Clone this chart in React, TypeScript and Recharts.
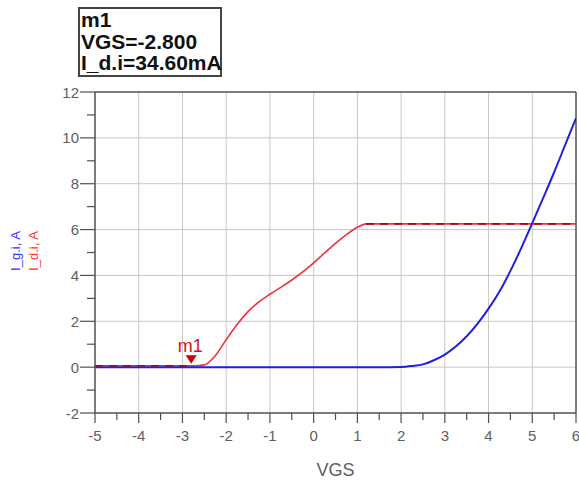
import { LineChart, Line, XAxis, YAxis, ReferenceLine, ReferenceDot, Label } from 'recharts';

const vgs = [-5, -4, -3, -2.75, -2.5, -2.25, -2, -1.75, -1.5, -1.25, -1, -0.75, -0.5, -0.25, 0, 0.25, 0.5, 0.75, 1, 1.2, 1.5, 2, 2.25, 2.5, 2.75, 3, 3.25, 3.5, 3.75, 4, 4.25, 4.5, 4.75, 5, 5.25, 5.5, 5.75, 6];
const idCurrent = [0.06, 0.06, 0.06, 0.06, 0.1, 0.5, 1.2, 1.86, 2.42, 2.85, 3.18, 3.48, 3.8, 4.15, 4.55, 4.98, 5.4, 5.78, 6.1, 6.25, 6.25, 6.25, 6.25, 6.25, 6.25, 6.25, 6.25, 6.25, 6.25, 6.25, 6.25, 6.25, 6.25, 6.25, 6.25, 6.25, 6.25, 6.25];
const idDashed = [0.06, 0.06, 0.06, 0.06, null, null, null, null, null, null, null, null, null, null, null, null, null, null, null, 6.25, 6.25, 6.25, 6.25, 6.25, 6.25, 6.25, 6.25, 6.25, 6.25, 6.25, 6.25, 6.25, 6.25, 6.25, 6.25, 6.25, 6.25, 6.25];
const igCurrent = [0, 0, 0, 0, 0, 0, 0, 0, 0, 0, 0, 0, 0, 0, 0, 0, 0, 0, 0, 0, 0, 0.01, 0.05, 0.12, 0.3, 0.55, 0.9, 1.35, 1.9, 2.55, 3.3, 4.2, 5.2, 6.28, 7.38, 8.5, 9.68, 10.86];

const xTicks = [-5, -4.5, -4, -3.5, -3, -2.5, -2, -1.5, -1, -0.5, 0, 0.5, 1, 1.5, 2, 2.5, 3, 3.5, 4, 4.5, 5, 5.5, 6];
const yTicks = [-2, -1, 0, 1, 2, 3, 4, 5, 6, 7, 8, 9, 10, 11, 12];
const gridX = [-4, -3, -2, -1, 0, 1, 2, 3, 4, 5];
const gridY = [0, 2, 4, 6, 8, 10];

const marker = { name: 'm1', vgs: -2.8, id: 0.0346 };

const data = vgs.map((v, i) => ({ vgs: v, id: idCurrent[i], idDash: idDashed[i], ig: igCurrent[i] }));

const font = 'Liberation Sans, Arial, sans-serif';
const axisColor = '#505050';
const tickColor = '#606060';

const XTick = (props: any) => {
  const { x, y, payload } = props;
  const major = Number.isInteger(payload.value);
  return (
    <g>
      <line x1={x} y1={y} x2={x} y2={y + (major ? 10 : 7)} stroke={axisColor} strokeWidth={1.2} />
      {major && (
        <text x={x} y={y + 28} textAnchor="middle" fontSize={15} fill={tickColor} fontFamily={font}>
          {payload.value}
        </text>
      )}
    </g>
  );
};

const YTick = (props: any) => {
  const { x, y, payload } = props;
  const major = payload.value % 2 === 0;
  return (
    <g>
      <line x1={x} y1={y} x2={x - (major ? 15 : 8)} y2={y} stroke={axisColor} strokeWidth={1.2} />
      {major && (
        <text x={x - 16} y={y + 5.5} textAnchor="end" fontSize={15} fill={tickColor} fontFamily={font}>
          {payload.value}
        </text>
      )}
    </g>
  );
};

const MarkerShape = (props: any) => {
  const { cx, cy } = props;
  return (
    <g>
      <polygon points={`${cx - 5.5},${cy - 11} ${cx + 5.5},${cy - 11} ${cx},${cy - 2.5}`} fill="#c80000" />
      <text x={cx - 1} y={cy - 14} textAnchor="middle" fontSize={18} fill="#e01010" fontFamily={font}>
        {marker.name}
      </text>
    </g>
  );
};

export default function App() {
  return (
    <div style={{ position: 'absolute', left: 0, top: 0, width: 579, height: 482, background: '#fff' }}>
      <LineChart width={579} height={482} data={data} margin={{ top: 92, right: 3, bottom: 39, left: 35 }}>
        {gridX.map((g) => (
          <ReferenceLine key={'gx' + g} x={g} stroke="#c8c8c8" strokeWidth={1} />
        ))}
        {gridY.map((g) => (
          <ReferenceLine key={'gy' + g} y={g} stroke="#c8c8c8" strokeWidth={1} />
        ))}
        <ReferenceLine y={12} stroke={axisColor} strokeWidth={1.5} />
        <ReferenceLine x={6} stroke={axisColor} strokeWidth={1.5} />
        <XAxis
          type="number"
          dataKey="vgs"
          domain={[-5, 6]}
          ticks={xTicks}
          interval={0}
          height={30}
          tickSize={0}
          tickMargin={0}
          tickLine={false}
          tick={<XTick />}
          axisLine={{ stroke: axisColor, strokeWidth: 1.5 }}
          allowDataOverflow
        >
          <Label
            content={(p: any) => (
              <text x={p.viewBox.x + p.viewBox.width / 2} y={p.viewBox.y + 63} textAnchor="middle" fontSize={18} fill={tickColor} fontFamily={font}>
                VGS
              </text>
            )}
          />
        </XAxis>
        <YAxis
          type="number"
          domain={[-2, 12]}
          ticks={yTicks}
          interval={0}
          width={60}
          tickSize={0}
          tickMargin={0}
          tickLine={false}
          tick={<YTick />}
          axisLine={{ stroke: axisColor, strokeWidth: 1.5 }}
          allowDataOverflow
        />
        <Line type="monotone" dataKey="id" stroke="#f03040" strokeWidth={1.6} dot={false} isAnimationActive={false} />
        <Line type="monotone" dataKey="ig" stroke="#2020e0" strokeWidth={2} dot={false} isAnimationActive={false} />
        <Line type="linear" dataKey="idDash" stroke="#b00010" strokeWidth={1.6} strokeDasharray="8 6" dot={false} isAnimationActive={false} />
        <ReferenceDot x={marker.vgs} y={marker.id} r={1} shape={<MarkerShape />} />
      </LineChart>
      {/* y axis title: two rotated lines, blue then red */}
      <svg width={50} height={482} style={{ position: 'absolute', left: 0, top: 0 }}>
        <g fontSize={13} fontFamily={font}>
          <text x={15} y={251} transform="rotate(-90 15 251)" textAnchor="middle" dominantBaseline="central" fill="#3030ff">
            I_g.i, A
          </text>
          <text x={33} y={251} transform="rotate(-90 33 251)" textAnchor="middle" dominantBaseline="central" fill="#ff3030">
            I_d.i, A
          </text>
        </g>
      </svg>
      <div
        style={{
          position: 'absolute',
          left: 78,
          top: 7,
          width: 140,
          height: 66,
          border: '2px solid #444',
          fontFamily: font,
          fontWeight: 'bold',
          fontSize: 21,
          lineHeight: '21.5px',
          whiteSpace: 'nowrap',
          color: '#111',
          background: '#fff',
        }}
      >
        <div style={{ paddingLeft: 1 }}>{marker.name}</div>
        <div style={{ paddingLeft: 1 }}>VGS=-2.800</div>
        <div style={{ paddingLeft: 1 }}>I_d.i=34.60mA</div>
      </div>
    </div>
  );
}
